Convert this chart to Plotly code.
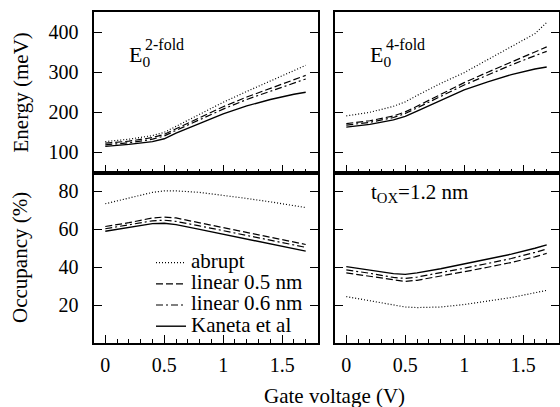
import plotly.graph_objects as go

# ---------------- data ----------------
gate_v = [0, 0.2, 0.4, 0.5, 0.6, 0.8, 1.0, 1.2, 1.4, 1.6, 1.7]
series_names = ["abrupt", "linear 0.5 nm", "linear 0.6 nm", "Kaneta et al"]

# E0 2-fold energy (meV)
e2_abrupt = [127, 133, 142, 150, 165, 195, 225, 252, 278, 304, 317]
e2_lin05 = [123, 128, 137, 145, 159, 187, 214, 238, 260, 282, 292]
e2_lin06 = [119, 124, 133, 141, 155, 182, 208, 232, 253, 273, 283]
e2_kaneta = [115, 120, 127, 134, 148, 172, 196, 216, 232, 245, 250]

# E0 4-fold energy (meV)
e4_abrupt = [191, 200, 215, 226, 242, 272, 299, 331, 363, 396, 424]
e4_lin05 = [172, 179, 191, 201, 215, 245, 274, 300, 326, 351, 363]
e4_lin06 = [168, 175, 187, 197, 211, 240, 268, 293, 318, 341, 352]
e4_kaneta = [163, 170, 181, 190, 203, 230, 256, 276, 294, 308, 313]

# Occupancy 2-fold (%)
o2_abrupt = [73.5, 76.5, 79.5, 80.3, 80.3, 79.5, 78.0, 76.3, 74.5, 72.5, 71.5]
o2_lin05 = [61.5, 63.5, 66.0, 66.5, 66.0, 63.5, 61.0, 58.5, 56.0, 53.5, 52.0]
o2_lin06 = [60.3, 62.3, 64.5, 64.8, 64.2, 61.8, 59.3, 56.8, 54.3, 51.8, 50.5]
o2_kaneta = [59.0, 61.0, 63.0, 63.2, 62.5, 60.0, 57.5, 55.0, 52.5, 50.0, 48.5]

# Occupancy 4-fold (%)
o4_abrupt = [24.5, 22.3, 19.8, 19.0, 18.7, 19.0, 20.3, 22.0, 24.0, 26.5, 27.8]
o4_lin05 = [37.0, 35.2, 33.0, 32.5, 33.1, 35.2, 37.6, 40.0, 42.5, 45.5, 47.3]
o4_lin06 = [38.6, 36.8, 34.6, 34.1, 34.8, 37.0, 39.5, 42.0, 44.6, 47.8, 49.6]
o4_kaneta = [40.3, 38.6, 36.6, 36.2, 37.0, 39.2, 41.7, 44.3, 46.9, 50.0, 51.8]

energy_ticks = [100, 200, 300, 400]
occ_ticks = [20, 40, 60, 80]

# ---------------- styling ----------------
W, H = 560, 407
FONT = "Liberation Serif"
styles = [
    dict(dash="1px,2px", width=1.2),
    dict(dash="7px,3px", width=1.2),
    dict(dash="7px,3px,2px,3px", width=1.2),
    dict(dash="solid", width=1.4),
]

def px(x):
    return x / W

def py(y):
    return 1 - y / H

fig = go.Figure()

panels = [
    ("x", "y", [e2_abrupt, e2_lin05, e2_lin06, e2_kaneta]),
    ("x2", "y2", [e4_abrupt, e4_lin05, e4_lin06, e4_kaneta]),
    ("x3", "y3", [o2_abrupt, o2_lin05, o2_lin06, o2_kaneta]),
    ("x4", "y4", [o4_abrupt, o4_lin05, o4_lin06, o4_kaneta]),
]
for pi, (xa, ya, sers) in enumerate(panels):
    for si, vals in enumerate(sers):
        fig.add_trace(go.Scatter(
            x=gate_v, y=vals, xaxis=xa, yaxis=ya, mode="lines",
            line=dict(color="black", **styles[si]),
            name=f'<span style="font-size:21px">{series_names[si]}</span>',
            showlegend=(pi == 2),
            hoverinfo="skip",
        ))

xdom_l = [px(93.5), px(317.5)]
xdom_r = [px(334.5), px(558.5)]
ydom_t = [py(172.5), py(12)]
ydom_b = [py(343), py(172.5)]

tickfont = dict(family=FONT, size=20, color="black")

def xaxis(domain, anchor, labels):
    return dict(
        domain=domain, anchor=anchor, range=[-0.1, 1.8],
        showline=True, linecolor="black", linewidth=2, mirror=True,
        ticks="inside", ticklen=8, tickwidth=1.3, tickcolor="black",
        tick0=0, dtick=0.5, showticklabels=labels, tickfont=tickfont,
        ticklabelstandoff=3,
        minor=dict(dtick=0.1, tick0=0, ticks="inside", ticklen=4,
                   tickwidth=1, tickcolor="black", showgrid=False),
        showgrid=False, zeroline=False,
    )

def yaxis(domain, anchor, rng, tv, labels):
    return dict(
        domain=domain, anchor=anchor, range=rng,
        showline=True, linecolor="black", linewidth=2, mirror="ticks",
        ticks="inside", ticklen=8, tickwidth=1.3, tickcolor="black",
        tickvals=tv, showticklabels=labels, tickfont=tickfont,
        ticklabelstandoff=9,
        showgrid=False, zeroline=False,
    )

fig.update_layout(
    width=W, height=H,
    margin=dict(l=0, r=0, t=0, b=0),
    paper_bgcolor="white", plot_bgcolor="white",
    font=dict(family=FONT, size=21, color="black"),
    xaxis=xaxis(xdom_l, "y", False),
    xaxis2=xaxis(xdom_r, "y2", False),
    xaxis3=xaxis(xdom_l, "y3", True),
    xaxis4=xaxis(xdom_r, "y4", True),
    yaxis=yaxis(ydom_t, "x", [50, 450], energy_ticks, True),
    yaxis2=yaxis(ydom_t, "x2", [50, 450], energy_ticks, False),
    yaxis3=yaxis(ydom_b, "x3", [0, 90], occ_ticks, True),
    yaxis4=yaxis(ydom_b, "x4", [0, 90], occ_ticks, False),
    showlegend=True,
    legend=dict(
        x=px(151), y=py(247), xanchor="left", yanchor="top",
        bgcolor="rgba(0,0,0,0)", borderwidth=0,
        font=dict(family=FONT, size=14, color="black"),
        tracegroupgap=0,
    ),
)

ann = [
    dict(text="Energy (meV)", x=px(20), y=py(92.5), textangle=-90,
         xanchor="center", yanchor="middle", font=dict(size=21)),
    dict(text="Occupancy (%)", x=px(20), y=py(258), textangle=-90,
         xanchor="center", yanchor="middle", font=dict(size=21)),
    dict(text="Gate voltage (V)", x=px(334), y=py(396),
         xanchor="center", yanchor="middle", font=dict(size=21)),
    dict(text="E<sub>0</sub>", x=px(127), y=py(56),
         xanchor="left", yanchor="middle", font=dict(size=22)),
    dict(text="2-fold", x=px(143), y=py(44),
         xanchor="left", yanchor="middle", font=dict(size=16)),
    dict(text="E<sub>0</sub>", x=px(368), y=py(56),
         xanchor="left", yanchor="middle", font=dict(size=22)),
    dict(text="4-fold", x=px(384), y=py(44),
         xanchor="left", yanchor="middle", font=dict(size=16)),
    dict(text="t<sub>OX</sub>=1.2 nm", x=px(369), y=py(193),
         xanchor="left", yanchor="middle", font=dict(size=21)),
]
for a in ann:
    a.update(xref="paper", yref="paper", showarrow=False)
    a["font"] = dict(family=FONT, color="black", **a["font"])
fig.update_layout(annotations=ann)

fig.write_html(
    "out.html",
    config={"displayModeBar": False},
    post_script="document.body.style.margin='0';document.body.style.overflow='hidden';",
)
